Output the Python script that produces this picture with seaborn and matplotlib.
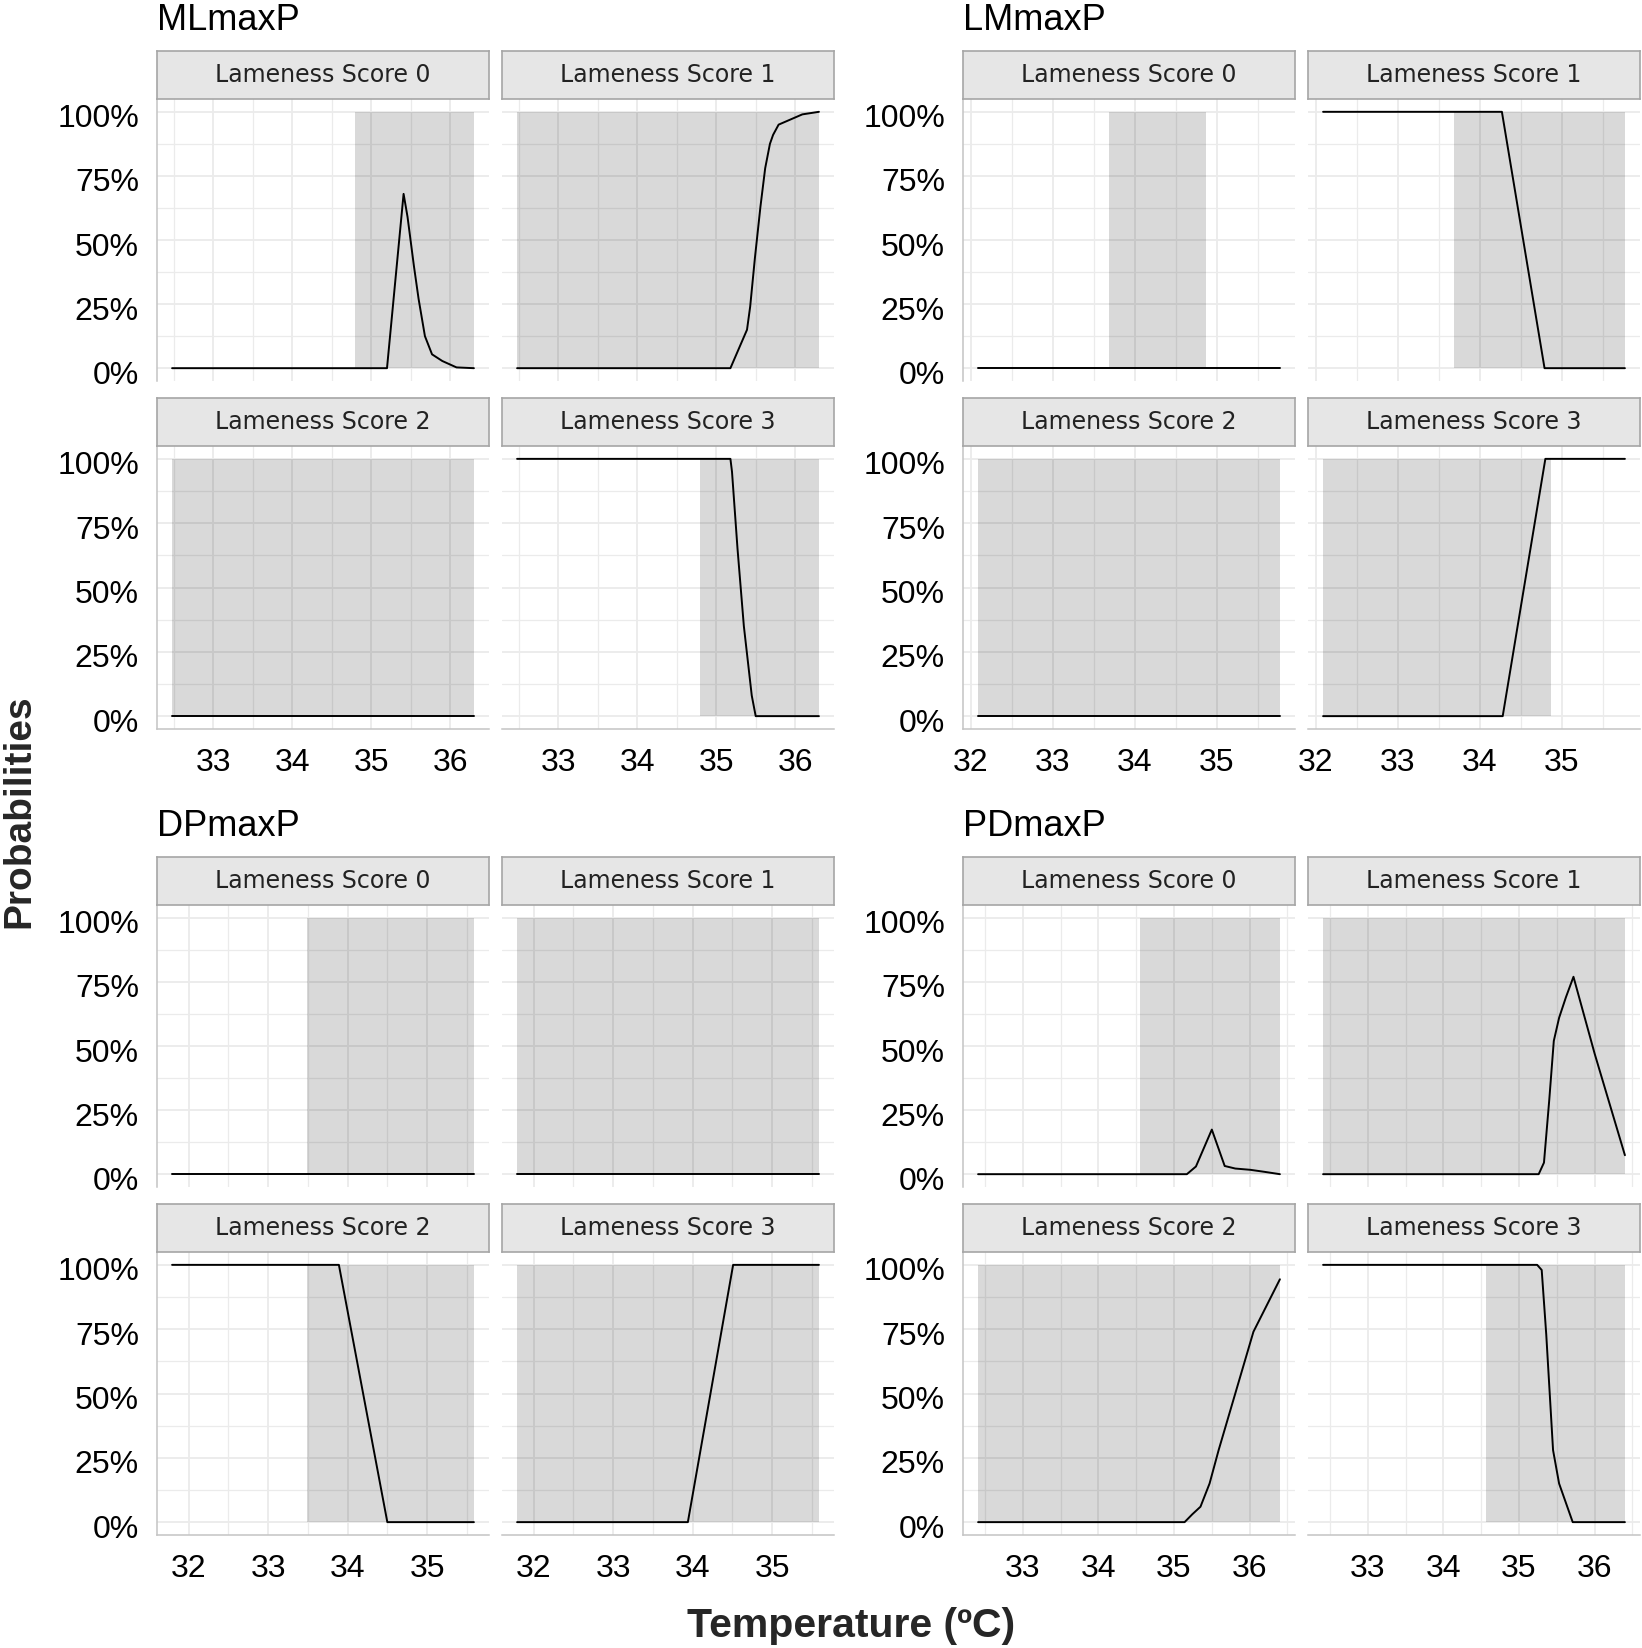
import numpy as np
import matplotlib
matplotlib.use("Agg")
import matplotlib.pyplot as plt
from matplotlib.ticker import MultipleLocator, PercentFormatter
from matplotlib.transforms import ScaledTranslation
import seaborn as sns

# values
groups = ["MLmaxP", "LMmaxP", "DPmaxP", "PDmaxP"]
scores = ["Lameness Score 0", "Lameness Score 1", "Lameness Score 2", "Lameness Score 3"]

# MLmaxP
ml_s0_x = [32.48, 35.2, 35.41, 35.46, 35.54, 35.6, 35.68, 35.77, 35.9, 36.08, 36.3]
ml_s0_y = [0, 0, 0.68, 0.59, 0.40, 0.27, 0.125, 0.054, 0.028, 0.003, 0]
ml_s1_x = [32.48, 35.18, 35.39, 35.43, 35.49, 35.56, 35.62, 35.68, 35.72, 35.79, 35.94, 36.09, 36.3]
ml_s1_y = [0, 0, 0.15, 0.24, 0.43, 0.63, 0.78, 0.875, 0.91, 0.95, 0.97, 0.99, 1.0]
ml_s2_x = [32.48, 36.3]
ml_s2_y = [0, 0]
ml_s3_x = [32.48, 35.18, 35.2, 35.27, 35.35, 35.45, 35.5, 36.3]
ml_s3_y = [1, 1, 0.95, 0.65, 0.35, 0.08, 0, 0]
ml_shade = [(34.8, 36.3), (32.48, 36.3), (32.48, 36.3), (34.8, 36.3)]

# LMmaxP
lm_s0_x = [32.09, 35.77]
lm_s0_y = [0, 0]
lm_s1_x = [32.09, 34.27, 34.79, 35.77]
lm_s1_y = [1, 1, 0, 0]
lm_s2_x = [32.09, 35.77]
lm_s2_y = [0, 0]
lm_s3_x = [32.09, 34.28, 34.8, 35.77]
lm_s3_y = [0, 0, 1, 1]
lm_shade = [(33.69, 34.87), (33.69, 35.77), (32.09, 35.77), (32.09, 34.87)]

# DPmaxP
dp_s0_x = [31.79, 35.59]
dp_s0_y = [0, 0]
dp_s1_x = [31.79, 35.59]
dp_s1_y = [0, 0]
dp_s2_x = [31.79, 33.89, 34.5, 35.59]
dp_s2_y = [1, 1, 0, 0]
dp_s3_x = [31.79, 33.94, 34.51, 35.59]
dp_s3_y = [0, 0, 1, 1]
dp_shade = [(33.49, 35.59), (31.79, 35.59), (33.49, 35.59), (31.79, 35.59)]

# PDmaxP
pd_s0_x = [32.41, 35.17, 35.29, 35.5, 35.67, 35.81, 36.01, 36.2, 36.4]
pd_s0_y = [0, 0, 0.03, 0.174, 0.032, 0.022, 0.017, 0.009, 0.0]
pd_s1_x = [32.41, 35.26, 35.33, 35.4, 35.46, 35.53, 35.62, 35.72, 36.0, 36.4]
pd_s1_y = [0, 0, 0.045, 0.29, 0.52, 0.61, 0.69, 0.77, 0.47, 0.074]
pd_s2_x = [32.41, 35.14, 35.24, 35.35, 35.47, 35.59, 35.82, 36.05, 36.4]
pd_s2_y = [0, 0, 0.03, 0.06, 0.15, 0.28, 0.51, 0.74, 0.944]
pd_s3_x = [32.41, 35.24, 35.3, 35.36, 35.45, 35.53, 35.71, 36.4]
pd_s3_y = [1, 1, 0.98, 0.73, 0.28, 0.15, 0, 0]
pd_shade = [(34.55, 36.4), (32.41, 36.4), (32.41, 36.4), (34.56, 36.4)]

x_ticks = {
    "MLmaxP": [33, 34, 35, 36],
    "LMmaxP": [32, 33, 34, 35],
    "DPmaxP": [32, 33, 34, 35],
    "PDmaxP": [33, 34, 35, 36],
}

curves = {
    "MLmaxP": [(ml_s0_x, ml_s0_y), (ml_s1_x, ml_s1_y), (ml_s2_x, ml_s2_y), (ml_s3_x, ml_s3_y)],
    "LMmaxP": [(lm_s0_x, lm_s0_y), (lm_s1_x, lm_s1_y), (lm_s2_x, lm_s2_y), (lm_s3_x, lm_s3_y)],
    "DPmaxP": [(dp_s0_x, dp_s0_y), (dp_s1_x, dp_s1_y), (dp_s2_x, dp_s2_y), (dp_s3_x, dp_s3_y)],
    "PDmaxP": [(pd_s0_x, pd_s0_y), (pd_s1_x, pd_s1_y), (pd_s2_x, pd_s2_y), (pd_s3_x, pd_s3_y)],
}
shades = {"MLmaxP": ml_shade, "LMmaxP": lm_shade, "DPmaxP": dp_shade, "PDmaxP": pd_shade}

sns.set_style("white")
plt.rcParams["font.family"] = ["Liberation Sans", "DejaVu Sans"]

W, H = 1642, 1648
fig = plt.figure(figsize=(W / 100, H / 100), dpi=100)


def px_rect(x0, y0, x1, y1):
    return [x0 / W, 1 - y1 / H, (x1 - x0) / W, (y1 - y0) / H]


# layout in pixels
group_x = {"MLmaxP": 157, "LMmaxP": 963, "DPmaxP": 157, "PDmaxP": 963}
group_top = {"MLmaxP": 0, "LMmaxP": 0, "DPmaxP": 806, "PDmaxP": 806}
col_off = [0, 345]
panel_w = 332
rows = [(51, 99, 381), (398, 446, 729)]  # strip top, panel top, panel bottom
label_shift = ScaledTranslation(0, -4 / 100, fig.dpi_scale_trans)

for g in groups:
    gx = group_x[g]
    gt = group_top[g]
    fig.text(gx / W, 1 - (gt + 30) / H, g, fontsize=26, ha="left", va="baseline", color="black")
    xs_all = [v for cx, cy in curves[g] for v in cx]
    lo, hi = min(xs_all), max(xs_all)
    pad = (hi - lo) * 0.05
    for i, sc in enumerate(scores):
        r, c = divmod(i, 2)
        st, pt, pb = rows[r]
        x0 = gx + col_off[c]
        ax = fig.add_axes(px_rect(x0, gt + pt, x0 + panel_w, gt + pb))
        ax.set_axisbelow(True)
        s0, s1 = shades[g][i]
        ax.fill_between([s0, s1], 0, 1, color="black", alpha=0.15, lw=0)
        cx, cy = curves[g][i]
        sns.lineplot(x=cx, y=cy, ax=ax, color="black", lw=1.4, estimator=None, sort=False)
        ax.set_xlim(lo - pad, hi + pad)
        ax.set_ylim(-0.05, 1.05)
        ax.set_xticks(x_ticks[g])
        ax.xaxis.set_minor_locator(MultipleLocator(0.5))
        ax.set_yticks([0, 0.25, 0.5, 0.75, 1.0])
        ax.yaxis.set_minor_locator(MultipleLocator(0.125))
        ax.yaxis.set_major_formatter(PercentFormatter(1.0, decimals=0))
        ax.grid(True, which="major", color="#ebebeb", lw=1.3)
        ax.grid(True, which="minor", color="#ebebeb", lw=0.9)
        ax.tick_params(which="both", length=0, labelsize=23, labelcolor="black")
        ax.tick_params(axis="y", pad=13)
        ax.tick_params(axis="x", pad=13.5)
        for sp in ax.spines.values():
            sp.set_visible(False)
        if c == 0:
            ax.spines["left"].set_visible(True)
            ax.spines["left"].set_color("#c4c4c4")
            ax.spines["left"].set_linewidth(1.1)
            for lab in ax.get_yticklabels():
                lab.set_transform(lab.get_transform() + label_shift)
        else:
            ax.set_yticklabels([])
        if r == 1:
            ax.spines["bottom"].set_visible(True)
            ax.spines["bottom"].set_color("#c4c4c4")
            ax.spines["bottom"].set_linewidth(1.1)
        else:
            ax.set_xticklabels([])
        ax.set_xlabel("")
        ax.set_ylabel("")

        # facet strip
        sax = fig.add_axes(px_rect(x0, gt + st, x0 + panel_w, gt + pt))
        sax.set_facecolor("#e6e6e6")
        sax.set_xticks([])
        sax.set_yticks([])
        for sp in sax.spines.values():
            sp.set_color("#a6a6a6")
            sp.set_linewidth(1.2)
        sax.text(0.5, 0.5, sc, transform=sax.transAxes, ha="center", va="center",
                 fontsize=17, color="#222222", family=["DejaVu Sans"])

fig.text(19 / W, 1 - 811 / H, "Probabilities", rotation=90, fontsize=28, fontweight="bold",
         ha="center", va="center")
fig.text(851 / W, 1 - 1626 / H, "Temperature (ºC)", fontsize=29.5, fontweight="bold",
         ha="center", va="center")

fig.savefig("out.png", dpi=100)
